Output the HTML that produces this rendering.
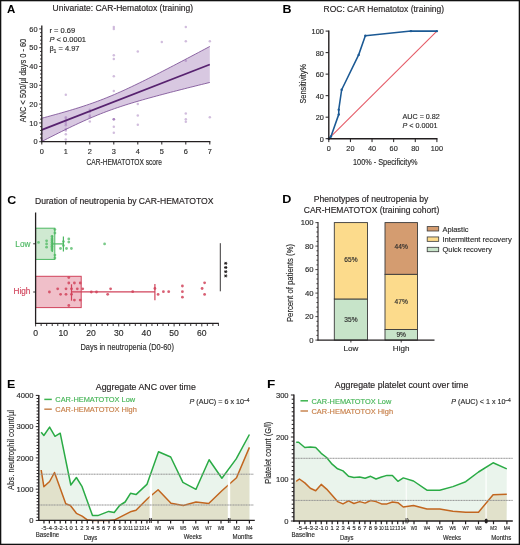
<!DOCTYPE html>
<html><head><meta charset="utf-8"><style>
html,body{margin:0;padding:0;background:#fff;}
body{width:520px;height:545px;overflow:hidden;}
svg{display:block;font-family:"Liberation Sans", sans-serif;filter:blur(0.3px);}
</style></head><body>
<svg width="520" height="545" viewBox="0 0 520 545">
<rect x="0" y="0" width="520" height="545" fill="#fff"/>
<text x="7.00" y="12.71" font-size="11" text-anchor="start" fill="#000" textLength="8.30" lengthAdjust="spacingAndGlyphs" font-weight="bold">A</text>
<text x="52.60" y="11.02" font-size="8.5" text-anchor="start" fill="#231f20" textLength="140.50" lengthAdjust="spacingAndGlyphs" stroke="#231f20" stroke-width="0.15">Univariate: CAR-Hematotox (training)</text>
<polygon points="41.80,118.21 44.60,117.47 47.40,116.72 50.20,115.96 53.00,115.20 55.80,114.43 58.60,113.65 61.40,112.86 64.20,112.06 67.00,111.25 69.80,110.43 72.60,109.59 75.40,108.73 78.20,107.86 81.00,106.97 83.80,106.06 86.60,105.13 89.40,104.17 92.20,103.19 95.00,102.19 97.80,101.16 100.60,100.10 103.40,99.02 106.20,97.90 109.00,96.76 111.80,95.60 114.60,94.41 117.40,93.19 120.20,91.95 123.00,90.69 125.80,89.40 128.60,88.10 131.40,86.78 134.20,85.45 137.00,84.10 139.80,82.73 142.60,81.36 145.40,79.97 148.20,78.57 151.00,77.17 153.80,75.75 156.60,74.33 159.40,72.90 162.20,71.46 165.00,70.02 167.80,68.57 170.60,67.12 173.40,65.67 176.20,64.21 179.00,62.74 181.80,61.27 184.60,59.80 187.40,58.33 190.20,56.85 193.00,55.37 195.80,53.89 198.60,52.41 201.40,50.92 204.20,49.44 207.00,47.95 209.80,46.46 209.80,82.45 207.00,83.14 204.20,83.83 201.40,84.52 198.60,85.21 195.80,85.91 193.00,86.61 190.20,87.31 187.40,88.01 184.60,88.72 181.80,89.43 179.00,90.14 176.20,90.86 173.40,91.58 170.60,92.30 167.80,93.03 165.00,93.76 162.20,94.50 159.40,95.25 156.60,96.00 153.80,96.75 151.00,97.52 148.20,98.29 145.40,99.07 142.60,99.87 139.80,100.67 137.00,101.49 134.20,102.32 131.40,103.16 128.60,104.02 125.80,104.90 123.00,105.80 120.20,106.72 117.40,107.66 114.60,108.62 111.80,109.61 109.00,110.62 106.20,111.66 103.40,112.73 100.60,113.83 97.80,114.95 95.00,116.10 92.20,117.27 89.40,118.48 86.60,119.70 83.80,120.95 81.00,122.22 78.20,123.51 75.40,124.82 72.60,126.14 69.80,127.49 67.00,128.84 64.20,130.21 61.40,131.59 58.60,132.98 55.80,134.38 53.00,135.79 50.20,137.21 47.40,138.63 44.60,140.07 41.80,141.50" fill="#d8c8e1" stroke="none" stroke-width="0"/>
<circle cx="41.80" cy="133.43" r="1.25" fill="#9a6cb3" fill-opacity="0.45"/>
<circle cx="41.80" cy="138.88" r="1.25" fill="#9a6cb3" fill-opacity="0.45"/>
<circle cx="41.80" cy="140.76" r="1.25" fill="#9a6cb3" fill-opacity="0.45"/>
<circle cx="65.80" cy="94.70" r="1.25" fill="#9a6cb3" fill-opacity="0.45"/>
<circle cx="65.80" cy="117.26" r="1.25" fill="#9a6cb3" fill-opacity="0.45"/>
<circle cx="65.80" cy="118.76" r="1.25" fill="#9a6cb3" fill-opacity="0.45"/>
<circle cx="65.80" cy="121.40" r="1.25" fill="#9a6cb3" fill-opacity="0.45"/>
<circle cx="65.80" cy="123.46" r="1.25" fill="#9a6cb3" fill-opacity="0.45"/>
<circle cx="65.80" cy="125.16" r="1.25" fill="#9a6cb3" fill-opacity="0.45"/>
<circle cx="65.80" cy="129.10" r="1.25" fill="#9a6cb3" fill-opacity="0.45"/>
<circle cx="65.80" cy="130.42" r="1.25" fill="#9a6cb3" fill-opacity="0.45"/>
<circle cx="65.80" cy="134.18" r="1.25" fill="#9a6cb3" fill-opacity="0.45"/>
<circle cx="65.80" cy="139.44" r="1.25" fill="#9a6cb3" fill-opacity="0.45"/>
<circle cx="89.80" cy="109.74" r="1.25" fill="#9a6cb3" fill-opacity="0.45"/>
<circle cx="89.80" cy="112.00" r="1.25" fill="#9a6cb3" fill-opacity="0.45"/>
<circle cx="89.80" cy="115.38" r="1.25" fill="#9a6cb3" fill-opacity="0.45"/>
<circle cx="89.80" cy="117.26" r="1.25" fill="#9a6cb3" fill-opacity="0.45"/>
<circle cx="89.80" cy="121.40" r="1.25" fill="#9a6cb3" fill-opacity="0.45"/>
<circle cx="113.80" cy="27.02" r="1.25" fill="#9a6cb3" fill-opacity="0.45"/>
<circle cx="113.80" cy="28.90" r="1.25" fill="#9a6cb3" fill-opacity="0.45"/>
<circle cx="113.80" cy="55.22" r="1.25" fill="#9a6cb3" fill-opacity="0.45"/>
<circle cx="113.80" cy="58.98" r="1.25" fill="#9a6cb3" fill-opacity="0.45"/>
<circle cx="113.80" cy="76.28" r="1.25" fill="#9a6cb3" fill-opacity="0.45"/>
<circle cx="113.80" cy="90.94" r="1.25" fill="#9a6cb3" fill-opacity="0.45"/>
<circle cx="113.80" cy="119.14" r="1.25" fill="#9a6cb3" fill-opacity="0.45"/>
<circle cx="113.80" cy="119.14" r="1.25" fill="#9a6cb3" fill-opacity="0.45"/>
<circle cx="113.80" cy="119.14" r="1.25" fill="#9a6cb3" fill-opacity="0.45"/>
<circle cx="113.80" cy="126.66" r="1.25" fill="#9a6cb3" fill-opacity="0.45"/>
<circle cx="113.80" cy="132.68" r="1.25" fill="#9a6cb3" fill-opacity="0.45"/>
<circle cx="137.80" cy="51.46" r="1.25" fill="#9a6cb3" fill-opacity="0.45"/>
<circle cx="137.80" cy="104.10" r="1.25" fill="#9a6cb3" fill-opacity="0.45"/>
<circle cx="137.80" cy="115.38" r="1.25" fill="#9a6cb3" fill-opacity="0.45"/>
<circle cx="137.80" cy="124.78" r="1.25" fill="#9a6cb3" fill-opacity="0.45"/>
<circle cx="161.80" cy="42.06" r="1.25" fill="#9a6cb3" fill-opacity="0.45"/>
<circle cx="185.80" cy="27.02" r="1.25" fill="#9a6cb3" fill-opacity="0.45"/>
<circle cx="185.80" cy="41.31" r="1.25" fill="#9a6cb3" fill-opacity="0.45"/>
<circle cx="185.80" cy="60.86" r="1.25" fill="#9a6cb3" fill-opacity="0.45"/>
<circle cx="185.80" cy="113.50" r="1.25" fill="#9a6cb3" fill-opacity="0.45"/>
<circle cx="185.80" cy="119.33" r="1.25" fill="#9a6cb3" fill-opacity="0.45"/>
<circle cx="185.80" cy="121.77" r="1.25" fill="#9a6cb3" fill-opacity="0.45"/>
<circle cx="209.80" cy="41.31" r="1.25" fill="#9a6cb3" fill-opacity="0.45"/>
<circle cx="209.80" cy="117.26" r="1.25" fill="#9a6cb3" fill-opacity="0.45"/>
<polyline points="41.80,118.21 44.60,117.47 47.40,116.72 50.20,115.96 53.00,115.20 55.80,114.43 58.60,113.65 61.40,112.86 64.20,112.06 67.00,111.25 69.80,110.43 72.60,109.59 75.40,108.73 78.20,107.86 81.00,106.97 83.80,106.06 86.60,105.13 89.40,104.17 92.20,103.19 95.00,102.19 97.80,101.16 100.60,100.10 103.40,99.02 106.20,97.90 109.00,96.76 111.80,95.60 114.60,94.41 117.40,93.19 120.20,91.95 123.00,90.69 125.80,89.40 128.60,88.10 131.40,86.78 134.20,85.45 137.00,84.10 139.80,82.73 142.60,81.36 145.40,79.97 148.20,78.57 151.00,77.17 153.80,75.75 156.60,74.33 159.40,72.90 162.20,71.46 165.00,70.02 167.80,68.57 170.60,67.12 173.40,65.67 176.20,64.21 179.00,62.74 181.80,61.27 184.60,59.80 187.40,58.33 190.20,56.85 193.00,55.37 195.80,53.89 198.60,52.41 201.40,50.92 204.20,49.44 207.00,47.95 209.80,46.46" fill="none" stroke="#74458f" stroke-width="0.8" stroke-linejoin="round"/>
<polyline points="41.80,141.50 44.60,140.07 47.40,138.63 50.20,137.21 53.00,135.79 55.80,134.38 58.60,132.98 61.40,131.59 64.20,130.21 67.00,128.84 69.80,127.49 72.60,126.14 75.40,124.82 78.20,123.51 81.00,122.22 83.80,120.95 86.60,119.70 89.40,118.48 92.20,117.27 95.00,116.10 97.80,114.95 100.60,113.83 103.40,112.73 106.20,111.66 109.00,110.62 111.80,109.61 114.60,108.62 117.40,107.66 120.20,106.72 123.00,105.80 125.80,104.90 128.60,104.02 131.40,103.16 134.20,102.32 137.00,101.49 139.80,100.67 142.60,99.87 145.40,99.07 148.20,98.29 151.00,97.52 153.80,96.75 156.60,96.00 159.40,95.25 162.20,94.50 165.00,93.76 167.80,93.03 170.60,92.30 173.40,91.58 176.20,90.86 179.00,90.14 181.80,89.43 184.60,88.72 187.40,88.01 190.20,87.31 193.00,86.61 195.80,85.91 198.60,85.21 201.40,84.52 204.20,83.83 207.00,83.14 209.80,82.45" fill="none" stroke="#74458f" stroke-width="0.8" stroke-linejoin="round"/>
<line x1="41.80" y1="129.86" x2="209.80" y2="64.45" stroke="#57226f" stroke-width="1.7"/>
<line x1="41.80" y1="142.30" x2="41.80" y2="25.50" stroke="#231f20" stroke-width="1.3"/>
<line x1="41.20" y1="141.70" x2="210.40" y2="141.70" stroke="#231f20" stroke-width="1.3"/>
<line x1="39.20" y1="141.70" x2="41.80" y2="141.70" stroke="#231f20" stroke-width="0.9"/>
<text x="37.60" y="144.33" font-size="7.4" text-anchor="end" fill="#2b2b2b" stroke="#2b2b2b" stroke-width="0.15">0</text>
<line x1="40.00" y1="137.94" x2="41.80" y2="137.94" stroke="#231f20" stroke-width="0.9"/>
<line x1="40.00" y1="134.18" x2="41.80" y2="134.18" stroke="#231f20" stroke-width="0.9"/>
<line x1="40.00" y1="130.42" x2="41.80" y2="130.42" stroke="#231f20" stroke-width="0.9"/>
<line x1="40.00" y1="126.66" x2="41.80" y2="126.66" stroke="#231f20" stroke-width="0.9"/>
<line x1="39.20" y1="122.90" x2="41.80" y2="122.90" stroke="#231f20" stroke-width="0.9"/>
<text x="37.60" y="125.53" font-size="7.4" text-anchor="end" fill="#2b2b2b" stroke="#2b2b2b" stroke-width="0.15">10</text>
<line x1="40.00" y1="119.14" x2="41.80" y2="119.14" stroke="#231f20" stroke-width="0.9"/>
<line x1="40.00" y1="115.38" x2="41.80" y2="115.38" stroke="#231f20" stroke-width="0.9"/>
<line x1="40.00" y1="111.62" x2="41.80" y2="111.62" stroke="#231f20" stroke-width="0.9"/>
<line x1="40.00" y1="107.86" x2="41.80" y2="107.86" stroke="#231f20" stroke-width="0.9"/>
<line x1="39.20" y1="104.10" x2="41.80" y2="104.10" stroke="#231f20" stroke-width="0.9"/>
<text x="37.60" y="106.73" font-size="7.4" text-anchor="end" fill="#2b2b2b" stroke="#2b2b2b" stroke-width="0.15">20</text>
<line x1="40.00" y1="100.34" x2="41.80" y2="100.34" stroke="#231f20" stroke-width="0.9"/>
<line x1="40.00" y1="96.58" x2="41.80" y2="96.58" stroke="#231f20" stroke-width="0.9"/>
<line x1="40.00" y1="92.82" x2="41.80" y2="92.82" stroke="#231f20" stroke-width="0.9"/>
<line x1="40.00" y1="89.06" x2="41.80" y2="89.06" stroke="#231f20" stroke-width="0.9"/>
<line x1="39.20" y1="85.30" x2="41.80" y2="85.30" stroke="#231f20" stroke-width="0.9"/>
<text x="37.60" y="87.93" font-size="7.4" text-anchor="end" fill="#2b2b2b" stroke="#2b2b2b" stroke-width="0.15">30</text>
<line x1="40.00" y1="81.54" x2="41.80" y2="81.54" stroke="#231f20" stroke-width="0.9"/>
<line x1="40.00" y1="77.78" x2="41.80" y2="77.78" stroke="#231f20" stroke-width="0.9"/>
<line x1="40.00" y1="74.02" x2="41.80" y2="74.02" stroke="#231f20" stroke-width="0.9"/>
<line x1="40.00" y1="70.26" x2="41.80" y2="70.26" stroke="#231f20" stroke-width="0.9"/>
<line x1="39.20" y1="66.50" x2="41.80" y2="66.50" stroke="#231f20" stroke-width="0.9"/>
<text x="37.60" y="69.13" font-size="7.4" text-anchor="end" fill="#2b2b2b" stroke="#2b2b2b" stroke-width="0.15">40</text>
<line x1="40.00" y1="62.74" x2="41.80" y2="62.74" stroke="#231f20" stroke-width="0.9"/>
<line x1="40.00" y1="58.98" x2="41.80" y2="58.98" stroke="#231f20" stroke-width="0.9"/>
<line x1="40.00" y1="55.22" x2="41.80" y2="55.22" stroke="#231f20" stroke-width="0.9"/>
<line x1="40.00" y1="51.46" x2="41.80" y2="51.46" stroke="#231f20" stroke-width="0.9"/>
<line x1="39.20" y1="47.70" x2="41.80" y2="47.70" stroke="#231f20" stroke-width="0.9"/>
<text x="37.60" y="50.33" font-size="7.4" text-anchor="end" fill="#2b2b2b" stroke="#2b2b2b" stroke-width="0.15">50</text>
<line x1="40.00" y1="43.94" x2="41.80" y2="43.94" stroke="#231f20" stroke-width="0.9"/>
<line x1="40.00" y1="40.18" x2="41.80" y2="40.18" stroke="#231f20" stroke-width="0.9"/>
<line x1="40.00" y1="36.42" x2="41.80" y2="36.42" stroke="#231f20" stroke-width="0.9"/>
<line x1="40.00" y1="32.66" x2="41.80" y2="32.66" stroke="#231f20" stroke-width="0.9"/>
<line x1="39.20" y1="28.90" x2="41.80" y2="28.90" stroke="#231f20" stroke-width="0.9"/>
<text x="37.60" y="31.53" font-size="7.4" text-anchor="end" fill="#2b2b2b" stroke="#2b2b2b" stroke-width="0.15">60</text>
<line x1="41.80" y1="141.70" x2="41.80" y2="144.50" stroke="#231f20" stroke-width="1.0"/>
<text x="41.80" y="153.93" font-size="7.4" text-anchor="middle" fill="#2b2b2b" stroke="#2b2b2b" stroke-width="0.15">0</text>
<line x1="65.80" y1="141.70" x2="65.80" y2="144.50" stroke="#231f20" stroke-width="1.0"/>
<text x="65.80" y="153.93" font-size="7.4" text-anchor="middle" fill="#2b2b2b" stroke="#2b2b2b" stroke-width="0.15">1</text>
<line x1="89.80" y1="141.70" x2="89.80" y2="144.50" stroke="#231f20" stroke-width="1.0"/>
<text x="89.80" y="153.93" font-size="7.4" text-anchor="middle" fill="#2b2b2b" stroke="#2b2b2b" stroke-width="0.15">2</text>
<line x1="113.80" y1="141.70" x2="113.80" y2="144.50" stroke="#231f20" stroke-width="1.0"/>
<text x="113.80" y="153.93" font-size="7.4" text-anchor="middle" fill="#2b2b2b" stroke="#2b2b2b" stroke-width="0.15">3</text>
<line x1="137.80" y1="141.70" x2="137.80" y2="144.50" stroke="#231f20" stroke-width="1.0"/>
<text x="137.80" y="153.93" font-size="7.4" text-anchor="middle" fill="#2b2b2b" stroke="#2b2b2b" stroke-width="0.15">4</text>
<line x1="161.80" y1="141.70" x2="161.80" y2="144.50" stroke="#231f20" stroke-width="1.0"/>
<text x="161.80" y="153.93" font-size="7.4" text-anchor="middle" fill="#2b2b2b" stroke="#2b2b2b" stroke-width="0.15">5</text>
<line x1="185.80" y1="141.70" x2="185.80" y2="144.50" stroke="#231f20" stroke-width="1.0"/>
<text x="185.80" y="153.93" font-size="7.4" text-anchor="middle" fill="#2b2b2b" stroke="#2b2b2b" stroke-width="0.15">6</text>
<line x1="209.80" y1="141.70" x2="209.80" y2="144.50" stroke="#231f20" stroke-width="1.0"/>
<text x="209.80" y="153.93" font-size="7.4" text-anchor="middle" fill="#2b2b2b" stroke="#2b2b2b" stroke-width="0.15">7</text>
<text x="124.20" y="164.65" font-size="8.6" text-anchor="middle" fill="#2b2b2b" textLength="75.50" lengthAdjust="spacingAndGlyphs" stroke="#2b2b2b" stroke-width="0.15">CAR-HEMATOTOX score</text>
<text transform="translate(22.60,80.50) rotate(-90)" x="0" y="3.05" font-size="8.6" text-anchor="middle" fill="#2b2b2b" stroke="#2b2b2b" stroke-width="0.15" textLength="83.50" lengthAdjust="spacingAndGlyphs">ANC &lt; 500/µl days 0 - 60</text>
<text x="49.50" y="33.26" font-size="7.5" text-anchor="start" fill="#2b2b2b" stroke="#2b2b2b" stroke-width="0.15">r = 0.69</text>
<text x="49.50" y="42.06" font-size="7.5" text-anchor="start" fill="#2b2b2b" stroke="#2b2b2b" stroke-width="0.15"><tspan font-style="italic">P</tspan> &lt; 0.0001</text>
<text x="49.50" y="50.96" font-size="7.5" text-anchor="start" fill="#2b2b2b" stroke="#2b2b2b" stroke-width="0.15">β<tspan font-size="4.5" dy="1.8">1</tspan><tspan dy="-1.8"> = 4.97</tspan></text>
<text x="282.40" y="12.71" font-size="11" text-anchor="start" fill="#000" textLength="9.00" lengthAdjust="spacingAndGlyphs" font-weight="bold">B</text>
<text x="323.60" y="12.22" font-size="8.5" text-anchor="start" fill="#231f20" textLength="120.50" lengthAdjust="spacingAndGlyphs" stroke="#231f20" stroke-width="0.15">ROC: CAR Hematotox (training)</text>
<line x1="328.80" y1="138.70" x2="436.90" y2="31.10" stroke="#e55c68" stroke-width="1.1"/>
<polyline points="328.80,138.70 330.96,136.55 338.75,114.38 338.75,109.65 341.66,89.74 358.64,54.88 365.34,35.73 410.96,31.10 436.90,31.10" fill="none" stroke="#1b5994" stroke-width="1.55" stroke-linejoin="round"/>
<circle cx="328.80" cy="138.70" r="1.2" fill="#1b5994"/>
<circle cx="330.96" cy="136.55" r="1.2" fill="#1b5994"/>
<circle cx="338.75" cy="114.38" r="1.2" fill="#1b5994"/>
<circle cx="338.75" cy="109.65" r="1.2" fill="#1b5994"/>
<circle cx="341.66" cy="89.74" r="1.2" fill="#1b5994"/>
<circle cx="358.64" cy="54.88" r="1.2" fill="#1b5994"/>
<circle cx="365.34" cy="35.73" r="1.2" fill="#1b5994"/>
<circle cx="410.96" cy="31.10" r="1.2" fill="#1b5994"/>
<circle cx="436.90" cy="31.10" r="1.2" fill="#1b5994"/>
<line x1="328.80" y1="139.40" x2="328.80" y2="30.50" stroke="#231f20" stroke-width="1.4"/>
<line x1="328.10" y1="138.70" x2="437.50" y2="138.70" stroke="#231f20" stroke-width="1.4"/>
<line x1="325.60" y1="138.70" x2="328.80" y2="138.70" stroke="#231f20" stroke-width="1.0"/>
<text x="323.80" y="141.89" font-size="7.3" text-anchor="end" fill="#2b2b2b" stroke="#2b2b2b" stroke-width="0.15">0</text>
<line x1="325.60" y1="117.18" x2="328.80" y2="117.18" stroke="#231f20" stroke-width="1.0"/>
<text x="323.80" y="120.37" font-size="7.3" text-anchor="end" fill="#2b2b2b" stroke="#2b2b2b" stroke-width="0.15">20</text>
<line x1="325.60" y1="95.66" x2="328.80" y2="95.66" stroke="#231f20" stroke-width="1.0"/>
<text x="323.80" y="98.85" font-size="7.3" text-anchor="end" fill="#2b2b2b" stroke="#2b2b2b" stroke-width="0.15">40</text>
<line x1="325.60" y1="74.14" x2="328.80" y2="74.14" stroke="#231f20" stroke-width="1.0"/>
<text x="323.80" y="77.33" font-size="7.3" text-anchor="end" fill="#2b2b2b" stroke="#2b2b2b" stroke-width="0.15">60</text>
<line x1="325.60" y1="52.62" x2="328.80" y2="52.62" stroke="#231f20" stroke-width="1.0"/>
<text x="323.80" y="55.81" font-size="7.3" text-anchor="end" fill="#2b2b2b" stroke="#2b2b2b" stroke-width="0.15">80</text>
<line x1="325.60" y1="31.10" x2="328.80" y2="31.10" stroke="#231f20" stroke-width="1.0"/>
<text x="323.80" y="34.29" font-size="7.3" text-anchor="end" fill="#2b2b2b" stroke="#2b2b2b" stroke-width="0.15">100</text>
<line x1="328.80" y1="138.70" x2="328.80" y2="142.10" stroke="#231f20" stroke-width="1.0"/>
<text x="328.80" y="150.59" font-size="7.3" text-anchor="middle" fill="#2b2b2b" stroke="#2b2b2b" stroke-width="0.15">0</text>
<line x1="350.42" y1="138.70" x2="350.42" y2="142.10" stroke="#231f20" stroke-width="1.0"/>
<text x="350.42" y="150.59" font-size="7.3" text-anchor="middle" fill="#2b2b2b" stroke="#2b2b2b" stroke-width="0.15">20</text>
<line x1="372.04" y1="138.70" x2="372.04" y2="142.10" stroke="#231f20" stroke-width="1.0"/>
<text x="372.04" y="150.59" font-size="7.3" text-anchor="middle" fill="#2b2b2b" stroke="#2b2b2b" stroke-width="0.15">40</text>
<line x1="393.66" y1="138.70" x2="393.66" y2="142.10" stroke="#231f20" stroke-width="1.0"/>
<text x="393.66" y="150.59" font-size="7.3" text-anchor="middle" fill="#2b2b2b" stroke="#2b2b2b" stroke-width="0.15">60</text>
<line x1="415.28" y1="138.70" x2="415.28" y2="142.10" stroke="#231f20" stroke-width="1.0"/>
<text x="415.28" y="150.59" font-size="7.3" text-anchor="middle" fill="#2b2b2b" stroke="#2b2b2b" stroke-width="0.15">80</text>
<line x1="436.90" y1="138.70" x2="436.90" y2="142.10" stroke="#231f20" stroke-width="1.0"/>
<text x="436.90" y="150.59" font-size="7.3" text-anchor="middle" fill="#2b2b2b" stroke="#2b2b2b" stroke-width="0.15">100</text>
<text x="385.30" y="165.41" font-size="8.2" text-anchor="middle" fill="#2b2b2b" textLength="64.50" lengthAdjust="spacingAndGlyphs" stroke="#2b2b2b" stroke-width="0.15">100% - Specificity%</text>
<text transform="translate(302.80,83.80) rotate(-90)" x="0" y="2.98" font-size="8.4" text-anchor="middle" fill="#2b2b2b" stroke="#2b2b2b" stroke-width="0.15" textLength="39.50" lengthAdjust="spacingAndGlyphs">Sensitivity%</text>
<text x="402.50" y="119.36" font-size="7.2" text-anchor="start" fill="#2b2b2b" stroke="#2b2b2b" stroke-width="0.15">AUC = 0.82</text>
<text x="402.50" y="128.06" font-size="7.2" text-anchor="start" fill="#2b2b2b" stroke="#2b2b2b" stroke-width="0.15"><tspan font-style="italic">P</tspan> &lt; 0.0001</text>
<text x="7.30" y="203.71" font-size="11" text-anchor="start" fill="#000" textLength="9.00" lengthAdjust="spacingAndGlyphs" font-weight="bold">C</text>
<text x="35.00" y="203.52" font-size="8.5" text-anchor="start" fill="#231f20" textLength="178.50" lengthAdjust="spacingAndGlyphs" stroke="#231f20" stroke-width="0.15">Duration of neutropenia by CAR-HEMATOTOX</text>
<rect x="35.60" y="228.2" width="19.20" height="31.2" fill="#cfe9d1" stroke="#4db862" stroke-width="1"/>
<rect x="35.60" y="276.3" width="45.60" height="31.3" fill="#f0bfc9" stroke="#d1435b" stroke-width="1"/>
<circle cx="52.00" cy="236.40" r="1.4" fill="#4db862" fill-opacity="0.75"/>
<circle cx="52.00" cy="239.00" r="1.4" fill="#4db862" fill-opacity="0.75"/>
<circle cx="52.00" cy="240.80" r="1.4" fill="#4db862" fill-opacity="0.75"/>
<circle cx="52.00" cy="242.60" r="1.4" fill="#4db862" fill-opacity="0.75"/>
<circle cx="52.00" cy="244.40" r="1.4" fill="#4db862" fill-opacity="0.75"/>
<circle cx="52.00" cy="246.20" r="1.4" fill="#4db862" fill-opacity="0.75"/>
<circle cx="52.00" cy="248.00" r="1.4" fill="#4db862" fill-opacity="0.75"/>
<circle cx="52.00" cy="250.00" r="1.4" fill="#4db862" fill-opacity="0.75"/>
<circle cx="46.60" cy="240.80" r="1.4" fill="#4db862" fill-opacity="0.75"/>
<circle cx="46.60" cy="243.90" r="1.4" fill="#4db862" fill-opacity="0.75"/>
<circle cx="46.60" cy="247.20" r="1.4" fill="#4db862" fill-opacity="0.75"/>
<circle cx="38.50" cy="242.40" r="1.4" fill="#4db862" fill-opacity="0.75"/>
<circle cx="54.90" cy="229.60" r="1.4" fill="#4db862" fill-opacity="0.75"/>
<circle cx="54.90" cy="233.00" r="1.4" fill="#4db862" fill-opacity="0.75"/>
<circle cx="54.90" cy="255.10" r="1.4" fill="#4db862" fill-opacity="0.75"/>
<circle cx="54.90" cy="258.00" r="1.4" fill="#4db862" fill-opacity="0.75"/>
<circle cx="60.50" cy="248.50" r="1.4" fill="#4db862" fill-opacity="0.75"/>
<circle cx="63.40" cy="241.60" r="1.4" fill="#4db862" fill-opacity="0.75"/>
<circle cx="63.40" cy="245.60" r="1.4" fill="#4db862" fill-opacity="0.75"/>
<circle cx="66.50" cy="248.50" r="1.4" fill="#4db862" fill-opacity="0.75"/>
<circle cx="68.80" cy="239.00" r="1.4" fill="#4db862" fill-opacity="0.75"/>
<circle cx="68.80" cy="242.10" r="1.4" fill="#4db862" fill-opacity="0.75"/>
<circle cx="71.40" cy="248.50" r="1.4" fill="#4db862" fill-opacity="0.75"/>
<circle cx="104.60" cy="243.90" r="1.4" fill="#4db862" fill-opacity="0.75"/>
<line x1="52.30" y1="235.60" x2="52.30" y2="252.00" stroke="#4db862" stroke-width="1.2"/>
<line x1="52.30" y1="243.90" x2="63.40" y2="243.90" stroke="#4db862" stroke-width="1.2"/>
<line x1="63.40" y1="236.40" x2="63.40" y2="251.50" stroke="#4db862" stroke-width="1.2"/>
<circle cx="49.40" cy="292.00" r="1.4" fill="#d1435b" fill-opacity="0.85"/>
<circle cx="57.70" cy="288.80" r="1.4" fill="#d1435b" fill-opacity="0.85"/>
<circle cx="60.60" cy="294.30" r="1.4" fill="#d1435b" fill-opacity="0.85"/>
<circle cx="66.00" cy="288.80" r="1.4" fill="#d1435b" fill-opacity="0.85"/>
<circle cx="66.00" cy="294.30" r="1.4" fill="#d1435b" fill-opacity="0.85"/>
<circle cx="68.80" cy="277.60" r="1.4" fill="#d1435b" fill-opacity="0.85"/>
<circle cx="68.80" cy="283.00" r="1.4" fill="#d1435b" fill-opacity="0.85"/>
<circle cx="68.80" cy="305.50" r="1.4" fill="#d1435b" fill-opacity="0.85"/>
<circle cx="71.50" cy="288.80" r="1.4" fill="#d1435b" fill-opacity="0.85"/>
<circle cx="71.50" cy="294.30" r="1.4" fill="#d1435b" fill-opacity="0.85"/>
<circle cx="74.40" cy="283.00" r="1.4" fill="#d1435b" fill-opacity="0.85"/>
<circle cx="74.40" cy="300.10" r="1.4" fill="#d1435b" fill-opacity="0.85"/>
<circle cx="77.30" cy="288.80" r="1.4" fill="#d1435b" fill-opacity="0.85"/>
<circle cx="80.20" cy="283.00" r="1.4" fill="#d1435b" fill-opacity="0.85"/>
<circle cx="80.20" cy="300.10" r="1.4" fill="#d1435b" fill-opacity="0.85"/>
<circle cx="82.70" cy="288.80" r="1.4" fill="#d1435b" fill-opacity="0.85"/>
<circle cx="91.30" cy="292.00" r="1.4" fill="#d1435b" fill-opacity="0.85"/>
<circle cx="96.50" cy="292.00" r="1.4" fill="#d1435b" fill-opacity="0.85"/>
<circle cx="107.70" cy="294.30" r="1.4" fill="#d1435b" fill-opacity="0.85"/>
<circle cx="110.60" cy="288.80" r="1.4" fill="#d1435b" fill-opacity="0.85"/>
<circle cx="132.70" cy="291.70" r="1.4" fill="#d1435b" fill-opacity="0.85"/>
<circle cx="154.90" cy="288.50" r="1.4" fill="#d1435b" fill-opacity="0.85"/>
<circle cx="158.10" cy="294.40" r="1.4" fill="#d1435b" fill-opacity="0.85"/>
<circle cx="163.40" cy="291.70" r="1.4" fill="#d1435b" fill-opacity="0.85"/>
<circle cx="168.70" cy="291.70" r="1.4" fill="#d1435b" fill-opacity="0.85"/>
<circle cx="182.40" cy="286.00" r="1.4" fill="#d1435b" fill-opacity="0.85"/>
<circle cx="182.40" cy="291.70" r="1.4" fill="#d1435b" fill-opacity="0.85"/>
<circle cx="182.40" cy="297.20" r="1.4" fill="#d1435b" fill-opacity="0.85"/>
<circle cx="202.10" cy="288.50" r="1.4" fill="#d1435b" fill-opacity="0.85"/>
<circle cx="204.60" cy="282.80" r="1.4" fill="#d1435b" fill-opacity="0.85"/>
<circle cx="204.60" cy="294.40" r="1.4" fill="#d1435b" fill-opacity="0.85"/>
<line x1="71.50" y1="284.30" x2="71.50" y2="300.70" stroke="#d1435b" stroke-width="1.2"/>
<line x1="71.50" y1="291.90" x2="154.90" y2="291.90" stroke="#d1435b" stroke-width="1.2"/>
<line x1="154.90" y1="283.90" x2="154.90" y2="300.20" stroke="#d1435b" stroke-width="1.2"/>
<line x1="35.60" y1="324.00" x2="35.60" y2="212.50" stroke="#231f20" stroke-width="1.3"/>
<line x1="35.00" y1="323.40" x2="218.80" y2="323.40" stroke="#231f20" stroke-width="1.3"/>
<line x1="35.60" y1="323.40" x2="35.60" y2="326.40" stroke="#231f20" stroke-width="0.9"/>
<text x="35.60" y="336.25" font-size="8.6" text-anchor="middle" fill="#2b2b2b" stroke="#2b2b2b" stroke-width="0.15">0</text>
<line x1="41.14" y1="323.40" x2="41.14" y2="326.00" stroke="#231f20" stroke-width="0.9"/>
<line x1="46.68" y1="323.40" x2="46.68" y2="326.00" stroke="#231f20" stroke-width="0.9"/>
<line x1="52.22" y1="323.40" x2="52.22" y2="326.00" stroke="#231f20" stroke-width="0.9"/>
<line x1="57.76" y1="323.40" x2="57.76" y2="326.00" stroke="#231f20" stroke-width="0.9"/>
<line x1="63.30" y1="323.40" x2="63.30" y2="326.40" stroke="#231f20" stroke-width="0.9"/>
<text x="63.30" y="336.25" font-size="8.6" text-anchor="middle" fill="#2b2b2b" stroke="#2b2b2b" stroke-width="0.15">10</text>
<line x1="68.84" y1="323.40" x2="68.84" y2="326.00" stroke="#231f20" stroke-width="0.9"/>
<line x1="74.38" y1="323.40" x2="74.38" y2="326.00" stroke="#231f20" stroke-width="0.9"/>
<line x1="79.92" y1="323.40" x2="79.92" y2="326.00" stroke="#231f20" stroke-width="0.9"/>
<line x1="85.46" y1="323.40" x2="85.46" y2="326.00" stroke="#231f20" stroke-width="0.9"/>
<line x1="91.00" y1="323.40" x2="91.00" y2="326.40" stroke="#231f20" stroke-width="0.9"/>
<text x="91.00" y="336.25" font-size="8.6" text-anchor="middle" fill="#2b2b2b" stroke="#2b2b2b" stroke-width="0.15">20</text>
<line x1="96.54" y1="323.40" x2="96.54" y2="326.00" stroke="#231f20" stroke-width="0.9"/>
<line x1="102.08" y1="323.40" x2="102.08" y2="326.00" stroke="#231f20" stroke-width="0.9"/>
<line x1="107.62" y1="323.40" x2="107.62" y2="326.00" stroke="#231f20" stroke-width="0.9"/>
<line x1="113.16" y1="323.40" x2="113.16" y2="326.00" stroke="#231f20" stroke-width="0.9"/>
<line x1="118.70" y1="323.40" x2="118.70" y2="326.40" stroke="#231f20" stroke-width="0.9"/>
<text x="118.70" y="336.25" font-size="8.6" text-anchor="middle" fill="#2b2b2b" stroke="#2b2b2b" stroke-width="0.15">30</text>
<line x1="124.24" y1="323.40" x2="124.24" y2="326.00" stroke="#231f20" stroke-width="0.9"/>
<line x1="129.78" y1="323.40" x2="129.78" y2="326.00" stroke="#231f20" stroke-width="0.9"/>
<line x1="135.32" y1="323.40" x2="135.32" y2="326.00" stroke="#231f20" stroke-width="0.9"/>
<line x1="140.86" y1="323.40" x2="140.86" y2="326.00" stroke="#231f20" stroke-width="0.9"/>
<line x1="146.40" y1="323.40" x2="146.40" y2="326.40" stroke="#231f20" stroke-width="0.9"/>
<text x="146.40" y="336.25" font-size="8.6" text-anchor="middle" fill="#2b2b2b" stroke="#2b2b2b" stroke-width="0.15">40</text>
<line x1="151.94" y1="323.40" x2="151.94" y2="326.00" stroke="#231f20" stroke-width="0.9"/>
<line x1="157.48" y1="323.40" x2="157.48" y2="326.00" stroke="#231f20" stroke-width="0.9"/>
<line x1="163.02" y1="323.40" x2="163.02" y2="326.00" stroke="#231f20" stroke-width="0.9"/>
<line x1="168.56" y1="323.40" x2="168.56" y2="326.00" stroke="#231f20" stroke-width="0.9"/>
<line x1="174.10" y1="323.40" x2="174.10" y2="326.40" stroke="#231f20" stroke-width="0.9"/>
<text x="174.10" y="336.25" font-size="8.6" text-anchor="middle" fill="#2b2b2b" stroke="#2b2b2b" stroke-width="0.15">50</text>
<line x1="179.64" y1="323.40" x2="179.64" y2="326.00" stroke="#231f20" stroke-width="0.9"/>
<line x1="185.18" y1="323.40" x2="185.18" y2="326.00" stroke="#231f20" stroke-width="0.9"/>
<line x1="190.72" y1="323.40" x2="190.72" y2="326.00" stroke="#231f20" stroke-width="0.9"/>
<line x1="196.26" y1="323.40" x2="196.26" y2="326.00" stroke="#231f20" stroke-width="0.9"/>
<line x1="201.80" y1="323.40" x2="201.80" y2="326.40" stroke="#231f20" stroke-width="0.9"/>
<text x="201.80" y="336.25" font-size="8.6" text-anchor="middle" fill="#2b2b2b" stroke="#2b2b2b" stroke-width="0.15">60</text>
<line x1="207.34" y1="323.40" x2="207.34" y2="326.00" stroke="#231f20" stroke-width="0.9"/>
<line x1="212.88" y1="323.40" x2="212.88" y2="326.00" stroke="#231f20" stroke-width="0.9"/>
<line x1="218.42" y1="323.40" x2="218.42" y2="326.00" stroke="#231f20" stroke-width="0.9"/>
<line x1="33.20" y1="243.80" x2="35.60" y2="243.80" stroke="#231f20" stroke-width="0.9"/>
<line x1="33.20" y1="292.00" x2="35.60" y2="292.00" stroke="#231f20" stroke-width="0.9"/>
<text x="30.40" y="246.81" font-size="8.2" text-anchor="end" fill="#4db862" stroke="#4db862" stroke-width="0.15">Low</text>
<text x="30.40" y="294.41" font-size="8.2" text-anchor="end" fill="#d1435b" stroke="#d1435b" stroke-width="0.15">High</text>
<text x="127.20" y="350.02" font-size="8.8" text-anchor="middle" fill="#2b2b2b" textLength="93.50" lengthAdjust="spacingAndGlyphs" stroke="#2b2b2b" stroke-width="0.15">Days in neutropenia (D0-60)</text>
<line x1="220.30" y1="243.20" x2="220.30" y2="291.30" stroke="#231f20" stroke-width="0.9"/>
<path d="M224.10,263.30L227.30,263.30M224.90,261.91L226.50,264.69M226.50,261.91L224.90,264.69" stroke="#231f20" stroke-width="1.0" fill="none"/>
<path d="M224.10,267.50L227.30,267.50M224.90,266.11L226.50,268.89M226.50,266.11L224.90,268.89" stroke="#231f20" stroke-width="1.0" fill="none"/>
<path d="M224.10,271.70L227.30,271.70M224.90,270.31L226.50,273.09M226.50,270.31L224.90,273.09" stroke="#231f20" stroke-width="1.0" fill="none"/>
<path d="M224.10,275.90L227.30,275.90M224.90,274.51L226.50,277.29M226.50,274.51L224.90,277.29" stroke="#231f20" stroke-width="1.0" fill="none"/>
<text x="282.30" y="202.91" font-size="11" text-anchor="start" fill="#000" textLength="9.10" lengthAdjust="spacingAndGlyphs" font-weight="bold">D</text>
<text x="371.00" y="202.12" font-size="8.5" text-anchor="middle" fill="#231f20" textLength="114.50" lengthAdjust="spacingAndGlyphs" stroke="#231f20" stroke-width="0.15">Phenotypes of neutropenia by</text>
<text x="371.50" y="212.72" font-size="8.5" text-anchor="middle" fill="#231f20" textLength="135.50" lengthAdjust="spacingAndGlyphs" stroke="#231f20" stroke-width="0.15">CAR-HEMATOTOX (training cohort)</text>
<rect x="334.30" y="298.98" width="33.20" height="41.12" fill="#c7e4c9" stroke="#3a3a3a" stroke-width="0.9"/>
<rect x="334.30" y="222.60" width="33.20" height="76.38" fill="#fcdb8c" stroke="#3a3a3a" stroke-width="0.9"/>
<rect x="385.00" y="329.53" width="32.50" height="10.58" fill="#c7e4c9" stroke="#3a3a3a" stroke-width="0.9"/>
<rect x="385.00" y="274.30" width="32.50" height="55.23" fill="#fcdb8c" stroke="#3a3a3a" stroke-width="0.9"/>
<rect x="385.00" y="222.60" width="32.50" height="51.70" fill="#d49c70" stroke="#3a3a3a" stroke-width="0.9"/>
<text x="350.90" y="261.84" font-size="6.6" text-anchor="middle" fill="#2b2b2b" stroke="#2b2b2b" stroke-width="0.15">65%</text>
<text x="350.90" y="321.54" font-size="6.6" text-anchor="middle" fill="#2b2b2b" stroke="#2b2b2b" stroke-width="0.15">35%</text>
<text x="401.20" y="249.34" font-size="6.6" text-anchor="middle" fill="#2b2b2b" stroke="#2b2b2b" stroke-width="0.15">44%</text>
<text x="401.20" y="303.64" font-size="6.6" text-anchor="middle" fill="#2b2b2b" stroke="#2b2b2b" stroke-width="0.15">47%</text>
<text x="401.20" y="337.34" font-size="6.6" text-anchor="middle" fill="#2b2b2b" stroke="#2b2b2b" stroke-width="0.15">9%</text>
<line x1="318.00" y1="340.60" x2="318.00" y2="222.10" stroke="#231f20" stroke-width="1.1"/>
<line x1="317.50" y1="340.10" x2="434.50" y2="340.10" stroke="#231f20" stroke-width="1.1"/>
<line x1="315.40" y1="340.10" x2="318.00" y2="340.10" stroke="#231f20" stroke-width="0.8"/>
<text x="313.60" y="342.83" font-size="7.7" text-anchor="end" fill="#2b2b2b" stroke="#2b2b2b" stroke-width="0.15">0</text>
<line x1="316.40" y1="335.40" x2="318.00" y2="335.40" stroke="#231f20" stroke-width="0.8"/>
<line x1="316.40" y1="330.70" x2="318.00" y2="330.70" stroke="#231f20" stroke-width="0.8"/>
<line x1="316.40" y1="326.00" x2="318.00" y2="326.00" stroke="#231f20" stroke-width="0.8"/>
<line x1="316.40" y1="321.30" x2="318.00" y2="321.30" stroke="#231f20" stroke-width="0.8"/>
<line x1="315.40" y1="316.60" x2="318.00" y2="316.60" stroke="#231f20" stroke-width="0.8"/>
<text x="313.60" y="319.33" font-size="7.7" text-anchor="end" fill="#2b2b2b" stroke="#2b2b2b" stroke-width="0.15">20</text>
<line x1="316.40" y1="311.90" x2="318.00" y2="311.90" stroke="#231f20" stroke-width="0.8"/>
<line x1="316.40" y1="307.20" x2="318.00" y2="307.20" stroke="#231f20" stroke-width="0.8"/>
<line x1="316.40" y1="302.50" x2="318.00" y2="302.50" stroke="#231f20" stroke-width="0.8"/>
<line x1="316.40" y1="297.80" x2="318.00" y2="297.80" stroke="#231f20" stroke-width="0.8"/>
<line x1="315.40" y1="293.10" x2="318.00" y2="293.10" stroke="#231f20" stroke-width="0.8"/>
<text x="313.60" y="295.83" font-size="7.7" text-anchor="end" fill="#2b2b2b" stroke="#2b2b2b" stroke-width="0.15">40</text>
<line x1="316.40" y1="288.40" x2="318.00" y2="288.40" stroke="#231f20" stroke-width="0.8"/>
<line x1="316.40" y1="283.70" x2="318.00" y2="283.70" stroke="#231f20" stroke-width="0.8"/>
<line x1="316.40" y1="279.00" x2="318.00" y2="279.00" stroke="#231f20" stroke-width="0.8"/>
<line x1="316.40" y1="274.30" x2="318.00" y2="274.30" stroke="#231f20" stroke-width="0.8"/>
<line x1="315.40" y1="269.60" x2="318.00" y2="269.60" stroke="#231f20" stroke-width="0.8"/>
<text x="313.60" y="272.33" font-size="7.7" text-anchor="end" fill="#2b2b2b" stroke="#2b2b2b" stroke-width="0.15">60</text>
<line x1="316.40" y1="264.90" x2="318.00" y2="264.90" stroke="#231f20" stroke-width="0.8"/>
<line x1="316.40" y1="260.20" x2="318.00" y2="260.20" stroke="#231f20" stroke-width="0.8"/>
<line x1="316.40" y1="255.50" x2="318.00" y2="255.50" stroke="#231f20" stroke-width="0.8"/>
<line x1="316.40" y1="250.80" x2="318.00" y2="250.80" stroke="#231f20" stroke-width="0.8"/>
<line x1="315.40" y1="246.10" x2="318.00" y2="246.10" stroke="#231f20" stroke-width="0.8"/>
<text x="313.60" y="248.83" font-size="7.7" text-anchor="end" fill="#2b2b2b" stroke="#2b2b2b" stroke-width="0.15">80</text>
<line x1="316.40" y1="241.40" x2="318.00" y2="241.40" stroke="#231f20" stroke-width="0.8"/>
<line x1="316.40" y1="236.70" x2="318.00" y2="236.70" stroke="#231f20" stroke-width="0.8"/>
<line x1="316.40" y1="232.00" x2="318.00" y2="232.00" stroke="#231f20" stroke-width="0.8"/>
<line x1="316.40" y1="227.30" x2="318.00" y2="227.30" stroke="#231f20" stroke-width="0.8"/>
<line x1="315.40" y1="222.60" x2="318.00" y2="222.60" stroke="#231f20" stroke-width="0.8"/>
<text x="313.60" y="225.33" font-size="7.7" text-anchor="end" fill="#2b2b2b" stroke="#2b2b2b" stroke-width="0.15">100</text>
<line x1="350.90" y1="340.10" x2="350.90" y2="342.50" stroke="#231f20" stroke-width="0.9"/>
<line x1="401.20" y1="340.10" x2="401.20" y2="342.50" stroke="#231f20" stroke-width="0.9"/>
<text x="350.90" y="351.28" font-size="8.1" text-anchor="middle" fill="#2b2b2b" stroke="#2b2b2b" stroke-width="0.15">Low</text>
<text x="401.20" y="351.28" font-size="8.1" text-anchor="middle" fill="#2b2b2b" stroke="#2b2b2b" stroke-width="0.15">High</text>
<text transform="translate(290.00,283.00) rotate(-90)" x="0" y="2.91" font-size="8.2" text-anchor="middle" fill="#2b2b2b" stroke="#2b2b2b" stroke-width="0.15" textLength="78.00" lengthAdjust="spacingAndGlyphs">Percent of patients (%)</text>
<rect x="427.2" y="226.60" width="11.5" height="4.4" fill="#d49c70" stroke="#3a3a3a" stroke-width="0.8"/>
<text x="442.50" y="231.50" font-size="7.6" text-anchor="start" fill="#2b2b2b" textLength="26.00" lengthAdjust="spacingAndGlyphs" stroke="#2b2b2b" stroke-width="0.15">Aplastic</text>
<rect x="427.2" y="236.95" width="11.5" height="4.4" fill="#fcdb8c" stroke="#3a3a3a" stroke-width="0.8"/>
<text x="442.50" y="241.85" font-size="7.6" text-anchor="start" fill="#2b2b2b" textLength="69.20" lengthAdjust="spacingAndGlyphs" stroke="#2b2b2b" stroke-width="0.15">Intermittent recovery</text>
<rect x="427.2" y="247.30" width="11.5" height="4.4" fill="#c7e4c9" stroke="#3a3a3a" stroke-width="0.8"/>
<text x="442.50" y="252.20" font-size="7.6" text-anchor="start" fill="#2b2b2b" textLength="49.40" lengthAdjust="spacingAndGlyphs" stroke="#2b2b2b" stroke-width="0.15">Quick recovery</text>
<text x="7.00" y="387.70" font-size="11" text-anchor="start" fill="#000" textLength="8.30" lengthAdjust="spacingAndGlyphs" font-weight="bold">E</text>
<text x="95.80" y="389.62" font-size="8.5" text-anchor="start" fill="#231f20" textLength="100.00" lengthAdjust="spacingAndGlyphs" stroke="#231f20" stroke-width="0.15">Aggregate ANC over time</text>
<polygon points="39.40,520.40 39.40,432.30 41.20,432.30 43.85,435.50 49.60,427.10 55.00,436.30 60.20,433.20 70.80,485.00 76.40,477.50 82.10,486.70 92.50,515.60 97.80,515.60 108.70,511.40 114.20,512.50 119.60,505.50 125.10,502.00 130.50,493.30 136.00,494.60 146.90,484.40 158.50,451.80 170.70,457.00 182.90,482.30 196.00,489.30 209.10,459.80 221.90,478.20 236.20,458.90 249.40,434.50 249.40,520.40" fill="#eaf4ec" stroke="none" stroke-width="0"/>
<polygon points="39.40,520.40 39.40,470.00 41.20,470.00 43.85,486.70 49.60,481.50 54.50,472.50 65.75,503.70 70.40,505.50 76.40,513.30 82.10,516.10 87.30,519.80 92.50,520.40 108.70,520.40 114.20,520.10 131.30,511.40 136.00,510.20 147.70,498.50 158.10,489.70 171.00,503.30 183.30,505.50 196.00,502.00 208.70,503.50 221.90,490.80 236.50,477.80 249.40,447.40 249.40,520.40" fill="#e1e1cb" stroke="none" stroke-width="0"/>
<polyline points="41.20,470.00 43.85,486.70 49.60,481.50 54.50,472.50 65.75,503.70 70.40,505.50 76.40,513.30 82.10,516.10 87.30,519.80 92.50,520.40 108.70,520.40 114.20,520.10 131.30,511.40 136.00,510.20 147.70,498.50 158.10,489.70 171.00,503.30 183.30,505.50 196.00,502.00 208.70,503.50 221.90,490.80 236.50,477.80 249.40,447.40" fill="none" stroke="#c2661f" stroke-width="1.5" stroke-linejoin="round"/>
<rect x="149.60" y="473.44" width="2.40" height="46.26" fill="#fff" fill-opacity="1"/>
<rect x="227.80" y="468.62" width="2.40" height="51.08" fill="#fff" fill-opacity="1"/>
<polyline points="41.20,432.30 43.85,435.50 49.60,427.10 55.00,436.30 60.20,433.20 70.80,485.00 76.40,477.50 82.10,486.70 92.50,515.60 97.80,515.60 108.70,511.40 114.20,512.50 119.60,505.50 125.10,502.00 130.50,493.30 136.00,494.60 146.90,484.40 158.50,451.80 170.70,457.00 182.90,482.30 196.00,489.30 209.10,459.80 221.90,478.20 236.20,458.90 249.40,434.50" fill="none" stroke="#2aab45" stroke-width="1.5" stroke-linejoin="round"/>
<line x1="39.40" y1="474.20" x2="253.80" y2="474.20" stroke="#939393" stroke-width="1.0" stroke-dasharray="1.2,0.4"/>
<line x1="39.40" y1="505.00" x2="253.80" y2="505.00" stroke="#939393" stroke-width="1.0" stroke-dasharray="1.2,0.4"/>
<line x1="38.80" y1="521.10" x2="38.80" y2="395.00" stroke="#231f20" stroke-width="1.4"/>
<line x1="38.10" y1="520.40" x2="254.80" y2="520.40" stroke="#231f20" stroke-width="1.4"/>
<line x1="35.80" y1="520.40" x2="38.80" y2="520.40" stroke="#231f20" stroke-width="1.0"/>
<line x1="36.60" y1="517.27" x2="38.80" y2="517.27" stroke="#231f20" stroke-width="1.0"/>
<line x1="36.60" y1="514.15" x2="38.80" y2="514.15" stroke="#231f20" stroke-width="1.0"/>
<line x1="36.60" y1="511.02" x2="38.80" y2="511.02" stroke="#231f20" stroke-width="1.0"/>
<line x1="36.60" y1="507.90" x2="38.80" y2="507.90" stroke="#231f20" stroke-width="1.0"/>
<line x1="36.60" y1="504.77" x2="38.80" y2="504.77" stroke="#231f20" stroke-width="1.0"/>
<line x1="36.60" y1="501.65" x2="38.80" y2="501.65" stroke="#231f20" stroke-width="1.0"/>
<line x1="36.60" y1="498.52" x2="38.80" y2="498.52" stroke="#231f20" stroke-width="1.0"/>
<line x1="36.60" y1="495.40" x2="38.80" y2="495.40" stroke="#231f20" stroke-width="1.0"/>
<line x1="36.60" y1="492.27" x2="38.80" y2="492.27" stroke="#231f20" stroke-width="1.0"/>
<line x1="35.80" y1="489.15" x2="38.80" y2="489.15" stroke="#231f20" stroke-width="1.0"/>
<line x1="36.60" y1="486.02" x2="38.80" y2="486.02" stroke="#231f20" stroke-width="1.0"/>
<line x1="36.60" y1="482.90" x2="38.80" y2="482.90" stroke="#231f20" stroke-width="1.0"/>
<line x1="36.60" y1="479.77" x2="38.80" y2="479.77" stroke="#231f20" stroke-width="1.0"/>
<line x1="36.60" y1="476.65" x2="38.80" y2="476.65" stroke="#231f20" stroke-width="1.0"/>
<line x1="36.60" y1="473.52" x2="38.80" y2="473.52" stroke="#231f20" stroke-width="1.0"/>
<line x1="36.60" y1="470.40" x2="38.80" y2="470.40" stroke="#231f20" stroke-width="1.0"/>
<line x1="36.60" y1="467.27" x2="38.80" y2="467.27" stroke="#231f20" stroke-width="1.0"/>
<line x1="36.60" y1="464.15" x2="38.80" y2="464.15" stroke="#231f20" stroke-width="1.0"/>
<line x1="36.60" y1="461.02" x2="38.80" y2="461.02" stroke="#231f20" stroke-width="1.0"/>
<line x1="35.80" y1="457.90" x2="38.80" y2="457.90" stroke="#231f20" stroke-width="1.0"/>
<line x1="36.60" y1="454.77" x2="38.80" y2="454.77" stroke="#231f20" stroke-width="1.0"/>
<line x1="36.60" y1="451.65" x2="38.80" y2="451.65" stroke="#231f20" stroke-width="1.0"/>
<line x1="36.60" y1="448.52" x2="38.80" y2="448.52" stroke="#231f20" stroke-width="1.0"/>
<line x1="36.60" y1="445.40" x2="38.80" y2="445.40" stroke="#231f20" stroke-width="1.0"/>
<line x1="36.60" y1="442.27" x2="38.80" y2="442.27" stroke="#231f20" stroke-width="1.0"/>
<line x1="36.60" y1="439.15" x2="38.80" y2="439.15" stroke="#231f20" stroke-width="1.0"/>
<line x1="36.60" y1="436.02" x2="38.80" y2="436.02" stroke="#231f20" stroke-width="1.0"/>
<line x1="36.60" y1="432.90" x2="38.80" y2="432.90" stroke="#231f20" stroke-width="1.0"/>
<line x1="36.60" y1="429.77" x2="38.80" y2="429.77" stroke="#231f20" stroke-width="1.0"/>
<line x1="35.80" y1="426.65" x2="38.80" y2="426.65" stroke="#231f20" stroke-width="1.0"/>
<line x1="36.60" y1="423.52" x2="38.80" y2="423.52" stroke="#231f20" stroke-width="1.0"/>
<line x1="36.60" y1="420.40" x2="38.80" y2="420.40" stroke="#231f20" stroke-width="1.0"/>
<line x1="36.60" y1="417.27" x2="38.80" y2="417.27" stroke="#231f20" stroke-width="1.0"/>
<line x1="36.60" y1="414.15" x2="38.80" y2="414.15" stroke="#231f20" stroke-width="1.0"/>
<line x1="36.60" y1="411.02" x2="38.80" y2="411.02" stroke="#231f20" stroke-width="1.0"/>
<line x1="36.60" y1="407.90" x2="38.80" y2="407.90" stroke="#231f20" stroke-width="1.0"/>
<line x1="36.60" y1="404.77" x2="38.80" y2="404.77" stroke="#231f20" stroke-width="1.0"/>
<line x1="36.60" y1="401.65" x2="38.80" y2="401.65" stroke="#231f20" stroke-width="1.0"/>
<line x1="36.60" y1="398.52" x2="38.80" y2="398.52" stroke="#231f20" stroke-width="1.0"/>
<line x1="35.80" y1="395.40" x2="38.80" y2="395.40" stroke="#231f20" stroke-width="1.0"/>
<text x="33.50" y="523.10" font-size="7.6" text-anchor="end" fill="#2b2b2b" stroke="#2b2b2b" stroke-width="0.15">0</text>
<text x="33.50" y="491.85" font-size="7.6" text-anchor="end" fill="#2b2b2b" stroke="#2b2b2b" stroke-width="0.15">1000</text>
<text x="33.50" y="460.60" font-size="7.6" text-anchor="end" fill="#2b2b2b" stroke="#2b2b2b" stroke-width="0.15">2000</text>
<text x="33.50" y="429.35" font-size="7.6" text-anchor="end" fill="#2b2b2b" stroke="#2b2b2b" stroke-width="0.15">3000</text>
<text x="33.50" y="398.10" font-size="7.6" text-anchor="end" fill="#2b2b2b" stroke="#2b2b2b" stroke-width="0.15">4000</text>
<line x1="43.95" y1="520.40" x2="43.95" y2="523.60" stroke="#231f20" stroke-width="1.2"/>
<text x="43.95" y="529.86" font-size="5.8" text-anchor="middle" fill="#2b2b2b" stroke="#2b2b2b" stroke-width="0.15">-5</text>
<line x1="49.37" y1="520.40" x2="49.37" y2="523.60" stroke="#231f20" stroke-width="1.2"/>
<text x="49.37" y="529.86" font-size="5.8" text-anchor="middle" fill="#2b2b2b" stroke="#2b2b2b" stroke-width="0.15">-4</text>
<line x1="54.79" y1="520.40" x2="54.79" y2="523.60" stroke="#231f20" stroke-width="1.2"/>
<text x="54.79" y="529.86" font-size="5.8" text-anchor="middle" fill="#2b2b2b" stroke="#2b2b2b" stroke-width="0.15">-3</text>
<line x1="60.21" y1="520.40" x2="60.21" y2="523.60" stroke="#231f20" stroke-width="1.2"/>
<text x="60.21" y="529.86" font-size="5.8" text-anchor="middle" fill="#2b2b2b" stroke="#2b2b2b" stroke-width="0.15">-2</text>
<line x1="65.63" y1="520.40" x2="65.63" y2="523.60" stroke="#231f20" stroke-width="1.2"/>
<text x="65.63" y="529.86" font-size="5.8" text-anchor="middle" fill="#2b2b2b" stroke="#2b2b2b" stroke-width="0.15">-1</text>
<line x1="71.05" y1="520.40" x2="71.05" y2="523.60" stroke="#231f20" stroke-width="1.2"/>
<text x="71.05" y="529.86" font-size="5.8" text-anchor="middle" fill="#2b2b2b" stroke="#2b2b2b" stroke-width="0.15">0</text>
<line x1="76.47" y1="520.40" x2="76.47" y2="523.60" stroke="#231f20" stroke-width="1.2"/>
<text x="76.47" y="529.86" font-size="5.8" text-anchor="middle" fill="#2b2b2b" stroke="#2b2b2b" stroke-width="0.15">1</text>
<line x1="81.89" y1="520.40" x2="81.89" y2="523.60" stroke="#231f20" stroke-width="1.2"/>
<text x="81.89" y="529.86" font-size="5.8" text-anchor="middle" fill="#2b2b2b" stroke="#2b2b2b" stroke-width="0.15">2</text>
<line x1="87.31" y1="520.40" x2="87.31" y2="523.60" stroke="#231f20" stroke-width="1.2"/>
<text x="87.31" y="529.86" font-size="5.8" text-anchor="middle" fill="#2b2b2b" stroke="#2b2b2b" stroke-width="0.15">3</text>
<line x1="92.73" y1="520.40" x2="92.73" y2="523.60" stroke="#231f20" stroke-width="1.2"/>
<text x="92.73" y="529.86" font-size="5.8" text-anchor="middle" fill="#2b2b2b" stroke="#2b2b2b" stroke-width="0.15">4</text>
<line x1="98.15" y1="520.40" x2="98.15" y2="523.60" stroke="#231f20" stroke-width="1.2"/>
<text x="98.15" y="529.86" font-size="5.8" text-anchor="middle" fill="#2b2b2b" stroke="#2b2b2b" stroke-width="0.15">5</text>
<line x1="103.57" y1="520.40" x2="103.57" y2="523.60" stroke="#231f20" stroke-width="1.2"/>
<text x="103.57" y="529.86" font-size="5.8" text-anchor="middle" fill="#2b2b2b" stroke="#2b2b2b" stroke-width="0.15">6</text>
<line x1="108.99" y1="520.40" x2="108.99" y2="523.60" stroke="#231f20" stroke-width="1.2"/>
<text x="108.99" y="529.86" font-size="5.8" text-anchor="middle" fill="#2b2b2b" stroke="#2b2b2b" stroke-width="0.15">7</text>
<line x1="114.41" y1="520.40" x2="114.41" y2="523.60" stroke="#231f20" stroke-width="1.2"/>
<text x="114.41" y="529.86" font-size="5.8" text-anchor="middle" fill="#2b2b2b" stroke="#2b2b2b" stroke-width="0.15">8</text>
<line x1="119.83" y1="520.40" x2="119.83" y2="523.60" stroke="#231f20" stroke-width="1.2"/>
<text x="119.83" y="529.86" font-size="5.8" text-anchor="middle" fill="#2b2b2b" stroke="#2b2b2b" stroke-width="0.15">9</text>
<line x1="125.25" y1="520.40" x2="125.25" y2="523.60" stroke="#231f20" stroke-width="1.2"/>
<text x="125.25" y="529.86" font-size="5.8" text-anchor="middle" fill="#2b2b2b" textLength="4.70" lengthAdjust="spacingAndGlyphs" stroke="#2b2b2b" stroke-width="0.15">10</text>
<line x1="130.67" y1="520.40" x2="130.67" y2="523.60" stroke="#231f20" stroke-width="1.2"/>
<text x="130.67" y="529.86" font-size="5.8" text-anchor="middle" fill="#2b2b2b" textLength="4.70" lengthAdjust="spacingAndGlyphs" stroke="#2b2b2b" stroke-width="0.15">11</text>
<line x1="136.09" y1="520.40" x2="136.09" y2="523.60" stroke="#231f20" stroke-width="1.2"/>
<text x="136.09" y="529.86" font-size="5.8" text-anchor="middle" fill="#2b2b2b" textLength="4.70" lengthAdjust="spacingAndGlyphs" stroke="#2b2b2b" stroke-width="0.15">12</text>
<line x1="141.51" y1="520.40" x2="141.51" y2="523.60" stroke="#231f20" stroke-width="1.2"/>
<text x="141.51" y="529.86" font-size="5.8" text-anchor="middle" fill="#2b2b2b" textLength="4.70" lengthAdjust="spacingAndGlyphs" stroke="#2b2b2b" stroke-width="0.15">13</text>
<line x1="146.93" y1="520.40" x2="146.93" y2="523.60" stroke="#231f20" stroke-width="1.2"/>
<text x="146.93" y="529.86" font-size="5.8" text-anchor="middle" fill="#2b2b2b" textLength="4.70" lengthAdjust="spacingAndGlyphs" stroke="#2b2b2b" stroke-width="0.15">14</text>
<line x1="158.00" y1="520.40" x2="158.00" y2="523.60" stroke="#231f20" stroke-width="1.2"/>
<text x="158.00" y="529.86" font-size="5.8" text-anchor="middle" fill="#2b2b2b" textLength="6.40" lengthAdjust="spacingAndGlyphs" stroke="#2b2b2b" stroke-width="0.15">W3</text>
<line x1="170.60" y1="520.40" x2="170.60" y2="523.60" stroke="#231f20" stroke-width="1.2"/>
<text x="170.60" y="529.86" font-size="5.8" text-anchor="middle" fill="#2b2b2b" textLength="6.40" lengthAdjust="spacingAndGlyphs" stroke="#2b2b2b" stroke-width="0.15">W4</text>
<line x1="183.20" y1="520.40" x2="183.20" y2="523.60" stroke="#231f20" stroke-width="1.2"/>
<text x="183.20" y="529.86" font-size="5.8" text-anchor="middle" fill="#2b2b2b" textLength="6.40" lengthAdjust="spacingAndGlyphs" stroke="#2b2b2b" stroke-width="0.15">W5</text>
<line x1="195.80" y1="520.40" x2="195.80" y2="523.60" stroke="#231f20" stroke-width="1.2"/>
<text x="195.80" y="529.86" font-size="5.8" text-anchor="middle" fill="#2b2b2b" textLength="6.40" lengthAdjust="spacingAndGlyphs" stroke="#2b2b2b" stroke-width="0.15">W6</text>
<line x1="208.40" y1="520.40" x2="208.40" y2="523.60" stroke="#231f20" stroke-width="1.2"/>
<text x="208.40" y="529.86" font-size="5.8" text-anchor="middle" fill="#2b2b2b" textLength="6.40" lengthAdjust="spacingAndGlyphs" stroke="#2b2b2b" stroke-width="0.15">W7</text>
<line x1="221.00" y1="520.40" x2="221.00" y2="523.60" stroke="#231f20" stroke-width="1.2"/>
<text x="221.00" y="529.86" font-size="5.8" text-anchor="middle" fill="#2b2b2b" textLength="6.40" lengthAdjust="spacingAndGlyphs" stroke="#2b2b2b" stroke-width="0.15">W8</text>
<line x1="236.60" y1="520.40" x2="236.60" y2="523.60" stroke="#231f20" stroke-width="1.2"/>
<text x="236.60" y="529.86" font-size="5.8" text-anchor="middle" fill="#2b2b2b" textLength="6.40" lengthAdjust="spacingAndGlyphs" stroke="#2b2b2b" stroke-width="0.15">M3</text>
<line x1="249.40" y1="520.40" x2="249.40" y2="523.60" stroke="#231f20" stroke-width="1.2"/>
<text x="249.40" y="529.86" font-size="5.8" text-anchor="middle" fill="#2b2b2b" textLength="6.40" lengthAdjust="spacingAndGlyphs" stroke="#2b2b2b" stroke-width="0.15">M4</text>
<line x1="149.7" y1="518.0" x2="149.7" y2="523.0" stroke="#231f20" stroke-width="0.9"/>
<line x1="151.3" y1="518.0" x2="151.3" y2="523.0" stroke="#231f20" stroke-width="0.9"/>
<line x1="228.4" y1="518.0" x2="228.4" y2="523.0" stroke="#231f20" stroke-width="0.9"/>
<line x1="230.0" y1="518.0" x2="230.0" y2="523.0" stroke="#231f20" stroke-width="0.9"/>
<text transform="translate(10.60,450.00) rotate(-90)" x="0" y="3.05" font-size="8.6" text-anchor="middle" fill="#2b2b2b" stroke="#2b2b2b" stroke-width="0.15" textLength="80.00" lengthAdjust="spacingAndGlyphs">Abs. neutrophil count/µl</text>
<line x1="44.30" y1="399.40" x2="51.80" y2="399.40" stroke="#3cb44e" stroke-width="1.5"/>
<line x1="44.30" y1="409.20" x2="51.80" y2="409.20" stroke="#c98652" stroke-width="1.5"/>
<text x="55.30" y="402.10" font-size="7.6" text-anchor="start" fill="#45b556" textLength="79.80" lengthAdjust="spacingAndGlyphs" stroke="#45b556" stroke-width="0.15">CAR-HEMATOTOX Low</text>
<text x="55.30" y="411.90" font-size="7.6" text-anchor="start" fill="#c77f48" textLength="81.50" lengthAdjust="spacingAndGlyphs" stroke="#c77f48" stroke-width="0.15">CAR-HEMATOTOX High</text>
<text x="189.50" y="404.19" font-size="7.3" text-anchor="start" fill="#2b2b2b" textLength="60.00" lengthAdjust="spacingAndGlyphs" stroke="#2b2b2b" stroke-width="0.15"><tspan font-style="italic">P</tspan> (AUC) = 6 x 10<tspan font-size="5" dy="-2.6">–4</tspan></text>
<text x="47.50" y="536.67" font-size="6.4" text-anchor="middle" fill="#2b2b2b" textLength="23.50" lengthAdjust="spacingAndGlyphs" stroke="#2b2b2b" stroke-width="0.15">Baseline</text>
<text x="90.50" y="539.57" font-size="6.4" text-anchor="middle" fill="#2b2b2b" textLength="13.50" lengthAdjust="spacingAndGlyphs" stroke="#2b2b2b" stroke-width="0.15">Days</text>
<text x="192.70" y="539.07" font-size="6.4" text-anchor="middle" fill="#2b2b2b" textLength="18.00" lengthAdjust="spacingAndGlyphs" stroke="#2b2b2b" stroke-width="0.15">Weeks</text>
<text x="242.60" y="539.07" font-size="6.4" text-anchor="middle" fill="#2b2b2b" textLength="20.00" lengthAdjust="spacingAndGlyphs" stroke="#2b2b2b" stroke-width="0.15">Months</text>
<text x="267.00" y="387.70" font-size="11" text-anchor="start" fill="#000" textLength="8.30" lengthAdjust="spacingAndGlyphs" font-weight="bold">F</text>
<text x="334.80" y="387.62" font-size="8.5" text-anchor="start" fill="#231f20" textLength="133.50" lengthAdjust="spacingAndGlyphs" stroke="#231f20" stroke-width="0.15">Aggregate platelet count over time</text>
<polygon points="294.50,521.00 294.50,442.30 296.20,442.30 298.60,442.30 304.80,447.50 310.30,447.00 315.70,447.50 321.20,453.30 326.60,457.50 332.10,464.20 337.60,468.80 343.00,470.90 348.50,476.20 353.90,477.40 359.70,477.00 365.10,478.20 370.60,476.30 376.00,479.00 381.50,477.00 387.00,475.40 392.40,475.40 397.90,481.30 403.30,477.90 413.50,481.00 426.90,490.20 439.70,490.20 452.90,486.60 465.70,481.70 478.50,472.00 493.10,462.80 506.80,468.90 506.50,521.00" fill="#eaf4ec" stroke="none" stroke-width="0"/>
<polygon points="294.50,521.00 294.50,481.30 296.20,481.30 299.40,479.00 304.80,482.90 310.30,488.30 315.70,490.70 321.20,484.40 326.60,489.10 332.10,495.30 337.60,501.60 343.00,503.90 348.50,500.80 353.90,503.50 359.70,501.60 365.10,503.10 370.60,500.50 376.00,501.60 381.50,503.90 387.00,503.90 392.40,502.00 397.90,502.70 403.30,507.00 413.50,505.50 426.90,509.00 439.70,509.00 452.90,511.20 465.70,512.20 478.50,512.20 493.10,494.80 506.80,494.30 506.50,521.00" fill="#e1e1cb" stroke="none" stroke-width="0"/>
<rect x="405.60" y="478.81" width="1.40" height="41.49" fill="#fff" fill-opacity="0.75"/>
<rect x="485.30" y="467.21" width="1.60" height="53.09" fill="#fff" fill-opacity="0.75"/>
<polyline points="296.20,481.30 299.40,479.00 304.80,482.90 310.30,488.30 315.70,490.70 321.20,484.40 326.60,489.10 332.10,495.30 337.60,501.60 343.00,503.90 348.50,500.80 353.90,503.50 359.70,501.60 365.10,503.10 370.60,500.50 376.00,501.60 381.50,503.90 387.00,503.90 392.40,502.00 397.90,502.70 403.30,507.00 413.50,505.50 426.90,509.00 439.70,509.00 452.90,511.20 465.70,512.20 478.50,512.20 493.10,494.80 506.80,494.30" fill="none" stroke="#c2661f" stroke-width="1.5" stroke-linejoin="round"/>
<polyline points="296.20,442.30 298.60,442.30 304.80,447.50 310.30,447.00 315.70,447.50 321.20,453.30 326.60,457.50 332.10,464.20 337.60,468.80 343.00,470.90 348.50,476.20 353.90,477.40 359.70,477.00 365.10,478.20 370.60,476.30 376.00,479.00 381.50,477.00 387.00,475.40 392.40,475.40 397.90,481.30 403.30,477.90 413.50,481.00 426.90,490.20 439.70,490.20 452.90,486.60 465.70,481.70 478.50,472.00 493.10,462.80 506.80,468.90" fill="none" stroke="#2aab45" stroke-width="1.5" stroke-linejoin="round"/>
<line x1="294.50" y1="458.30" x2="512.80" y2="458.30" stroke="#939393" stroke-width="1.0" stroke-dasharray="1.2,0.4"/>
<line x1="294.50" y1="500.40" x2="512.80" y2="500.40" stroke="#939393" stroke-width="1.0" stroke-dasharray="1.2,0.4"/>
<line x1="293.90" y1="521.70" x2="293.90" y2="394.60" stroke="#231f20" stroke-width="1.4"/>
<line x1="293.20" y1="521.00" x2="512.80" y2="521.00" stroke="#231f20" stroke-width="1.4"/>
<line x1="290.90" y1="521.00" x2="293.90" y2="521.00" stroke="#231f20" stroke-width="1.0"/>
<line x1="291.70" y1="516.80" x2="293.90" y2="516.80" stroke="#231f20" stroke-width="1.0"/>
<line x1="291.70" y1="512.60" x2="293.90" y2="512.60" stroke="#231f20" stroke-width="1.0"/>
<line x1="291.70" y1="508.40" x2="293.90" y2="508.40" stroke="#231f20" stroke-width="1.0"/>
<line x1="291.70" y1="504.20" x2="293.90" y2="504.20" stroke="#231f20" stroke-width="1.0"/>
<line x1="291.70" y1="500.00" x2="293.90" y2="500.00" stroke="#231f20" stroke-width="1.0"/>
<line x1="291.70" y1="495.80" x2="293.90" y2="495.80" stroke="#231f20" stroke-width="1.0"/>
<line x1="291.70" y1="491.60" x2="293.90" y2="491.60" stroke="#231f20" stroke-width="1.0"/>
<line x1="291.70" y1="487.40" x2="293.90" y2="487.40" stroke="#231f20" stroke-width="1.0"/>
<line x1="291.70" y1="483.20" x2="293.90" y2="483.20" stroke="#231f20" stroke-width="1.0"/>
<line x1="290.90" y1="479.00" x2="293.90" y2="479.00" stroke="#231f20" stroke-width="1.0"/>
<line x1="291.70" y1="474.80" x2="293.90" y2="474.80" stroke="#231f20" stroke-width="1.0"/>
<line x1="291.70" y1="470.60" x2="293.90" y2="470.60" stroke="#231f20" stroke-width="1.0"/>
<line x1="291.70" y1="466.40" x2="293.90" y2="466.40" stroke="#231f20" stroke-width="1.0"/>
<line x1="291.70" y1="462.20" x2="293.90" y2="462.20" stroke="#231f20" stroke-width="1.0"/>
<line x1="291.70" y1="458.00" x2="293.90" y2="458.00" stroke="#231f20" stroke-width="1.0"/>
<line x1="291.70" y1="453.80" x2="293.90" y2="453.80" stroke="#231f20" stroke-width="1.0"/>
<line x1="291.70" y1="449.60" x2="293.90" y2="449.60" stroke="#231f20" stroke-width="1.0"/>
<line x1="291.70" y1="445.40" x2="293.90" y2="445.40" stroke="#231f20" stroke-width="1.0"/>
<line x1="291.70" y1="441.20" x2="293.90" y2="441.20" stroke="#231f20" stroke-width="1.0"/>
<line x1="290.90" y1="437.00" x2="293.90" y2="437.00" stroke="#231f20" stroke-width="1.0"/>
<line x1="291.70" y1="432.80" x2="293.90" y2="432.80" stroke="#231f20" stroke-width="1.0"/>
<line x1="291.70" y1="428.60" x2="293.90" y2="428.60" stroke="#231f20" stroke-width="1.0"/>
<line x1="291.70" y1="424.40" x2="293.90" y2="424.40" stroke="#231f20" stroke-width="1.0"/>
<line x1="291.70" y1="420.20" x2="293.90" y2="420.20" stroke="#231f20" stroke-width="1.0"/>
<line x1="291.70" y1="416.00" x2="293.90" y2="416.00" stroke="#231f20" stroke-width="1.0"/>
<line x1="291.70" y1="411.80" x2="293.90" y2="411.80" stroke="#231f20" stroke-width="1.0"/>
<line x1="291.70" y1="407.60" x2="293.90" y2="407.60" stroke="#231f20" stroke-width="1.0"/>
<line x1="291.70" y1="403.40" x2="293.90" y2="403.40" stroke="#231f20" stroke-width="1.0"/>
<line x1="291.70" y1="399.20" x2="293.90" y2="399.20" stroke="#231f20" stroke-width="1.0"/>
<line x1="290.90" y1="395.00" x2="293.90" y2="395.00" stroke="#231f20" stroke-width="1.0"/>
<text x="288.60" y="523.70" font-size="7.6" text-anchor="end" fill="#2b2b2b" stroke="#2b2b2b" stroke-width="0.15">0</text>
<text x="288.60" y="481.70" font-size="7.6" text-anchor="end" fill="#2b2b2b" stroke="#2b2b2b" stroke-width="0.15">100</text>
<text x="288.60" y="439.70" font-size="7.6" text-anchor="end" fill="#2b2b2b" stroke="#2b2b2b" stroke-width="0.15">200</text>
<text x="288.60" y="397.70" font-size="7.6" text-anchor="end" fill="#2b2b2b" stroke="#2b2b2b" stroke-width="0.15">300</text>
<line x1="299.40" y1="521.00" x2="299.40" y2="524.20" stroke="#231f20" stroke-width="1.2"/>
<text x="299.40" y="529.86" font-size="5.8" text-anchor="middle" fill="#2b2b2b" stroke="#2b2b2b" stroke-width="0.15">-5</text>
<line x1="304.86" y1="521.00" x2="304.86" y2="524.20" stroke="#231f20" stroke-width="1.2"/>
<text x="304.86" y="529.86" font-size="5.8" text-anchor="middle" fill="#2b2b2b" stroke="#2b2b2b" stroke-width="0.15">-4</text>
<line x1="310.32" y1="521.00" x2="310.32" y2="524.20" stroke="#231f20" stroke-width="1.2"/>
<text x="310.32" y="529.86" font-size="5.8" text-anchor="middle" fill="#2b2b2b" stroke="#2b2b2b" stroke-width="0.15">-3</text>
<line x1="315.78" y1="521.00" x2="315.78" y2="524.20" stroke="#231f20" stroke-width="1.2"/>
<text x="315.78" y="529.86" font-size="5.8" text-anchor="middle" fill="#2b2b2b" stroke="#2b2b2b" stroke-width="0.15">-2</text>
<line x1="321.24" y1="521.00" x2="321.24" y2="524.20" stroke="#231f20" stroke-width="1.2"/>
<text x="321.24" y="529.86" font-size="5.8" text-anchor="middle" fill="#2b2b2b" stroke="#2b2b2b" stroke-width="0.15">-1</text>
<line x1="326.70" y1="521.00" x2="326.70" y2="524.20" stroke="#231f20" stroke-width="1.2"/>
<text x="326.70" y="529.86" font-size="5.8" text-anchor="middle" fill="#2b2b2b" stroke="#2b2b2b" stroke-width="0.15">0</text>
<line x1="332.16" y1="521.00" x2="332.16" y2="524.20" stroke="#231f20" stroke-width="1.2"/>
<text x="332.16" y="529.86" font-size="5.8" text-anchor="middle" fill="#2b2b2b" stroke="#2b2b2b" stroke-width="0.15">1</text>
<line x1="337.62" y1="521.00" x2="337.62" y2="524.20" stroke="#231f20" stroke-width="1.2"/>
<text x="337.62" y="529.86" font-size="5.8" text-anchor="middle" fill="#2b2b2b" stroke="#2b2b2b" stroke-width="0.15">2</text>
<line x1="343.08" y1="521.00" x2="343.08" y2="524.20" stroke="#231f20" stroke-width="1.2"/>
<text x="343.08" y="529.86" font-size="5.8" text-anchor="middle" fill="#2b2b2b" stroke="#2b2b2b" stroke-width="0.15">3</text>
<line x1="348.54" y1="521.00" x2="348.54" y2="524.20" stroke="#231f20" stroke-width="1.2"/>
<text x="348.54" y="529.86" font-size="5.8" text-anchor="middle" fill="#2b2b2b" stroke="#2b2b2b" stroke-width="0.15">4</text>
<line x1="354.00" y1="521.00" x2="354.00" y2="524.20" stroke="#231f20" stroke-width="1.2"/>
<text x="354.00" y="529.86" font-size="5.8" text-anchor="middle" fill="#2b2b2b" stroke="#2b2b2b" stroke-width="0.15">5</text>
<line x1="359.46" y1="521.00" x2="359.46" y2="524.20" stroke="#231f20" stroke-width="1.2"/>
<text x="359.46" y="529.86" font-size="5.8" text-anchor="middle" fill="#2b2b2b" stroke="#2b2b2b" stroke-width="0.15">6</text>
<line x1="364.92" y1="521.00" x2="364.92" y2="524.20" stroke="#231f20" stroke-width="1.2"/>
<text x="364.92" y="529.86" font-size="5.8" text-anchor="middle" fill="#2b2b2b" stroke="#2b2b2b" stroke-width="0.15">7</text>
<line x1="370.38" y1="521.00" x2="370.38" y2="524.20" stroke="#231f20" stroke-width="1.2"/>
<text x="370.38" y="529.86" font-size="5.8" text-anchor="middle" fill="#2b2b2b" stroke="#2b2b2b" stroke-width="0.15">8</text>
<line x1="375.84" y1="521.00" x2="375.84" y2="524.20" stroke="#231f20" stroke-width="1.2"/>
<text x="375.84" y="529.86" font-size="5.8" text-anchor="middle" fill="#2b2b2b" stroke="#2b2b2b" stroke-width="0.15">9</text>
<line x1="381.30" y1="521.00" x2="381.30" y2="524.20" stroke="#231f20" stroke-width="1.2"/>
<text x="381.30" y="529.86" font-size="5.8" text-anchor="middle" fill="#2b2b2b" textLength="4.70" lengthAdjust="spacingAndGlyphs" stroke="#2b2b2b" stroke-width="0.15">10</text>
<line x1="386.76" y1="521.00" x2="386.76" y2="524.20" stroke="#231f20" stroke-width="1.2"/>
<text x="386.76" y="529.86" font-size="5.8" text-anchor="middle" fill="#2b2b2b" textLength="4.70" lengthAdjust="spacingAndGlyphs" stroke="#2b2b2b" stroke-width="0.15">11</text>
<line x1="392.22" y1="521.00" x2="392.22" y2="524.20" stroke="#231f20" stroke-width="1.2"/>
<text x="392.22" y="529.86" font-size="5.8" text-anchor="middle" fill="#2b2b2b" textLength="4.70" lengthAdjust="spacingAndGlyphs" stroke="#2b2b2b" stroke-width="0.15">12</text>
<line x1="397.68" y1="521.00" x2="397.68" y2="524.20" stroke="#231f20" stroke-width="1.2"/>
<text x="397.68" y="529.86" font-size="5.8" text-anchor="middle" fill="#2b2b2b" textLength="4.70" lengthAdjust="spacingAndGlyphs" stroke="#2b2b2b" stroke-width="0.15">13</text>
<line x1="403.14" y1="521.00" x2="403.14" y2="524.20" stroke="#231f20" stroke-width="1.2"/>
<text x="403.14" y="529.86" font-size="5.8" text-anchor="middle" fill="#2b2b2b" textLength="4.70" lengthAdjust="spacingAndGlyphs" stroke="#2b2b2b" stroke-width="0.15">14</text>
<line x1="414.00" y1="521.00" x2="414.00" y2="524.20" stroke="#231f20" stroke-width="1.2"/>
<text x="414.00" y="529.86" font-size="5.8" text-anchor="middle" fill="#2b2b2b" textLength="6.40" lengthAdjust="spacingAndGlyphs" stroke="#2b2b2b" stroke-width="0.15">W3</text>
<line x1="426.90" y1="521.00" x2="426.90" y2="524.20" stroke="#231f20" stroke-width="1.2"/>
<text x="426.90" y="529.86" font-size="5.8" text-anchor="middle" fill="#2b2b2b" textLength="6.40" lengthAdjust="spacingAndGlyphs" stroke="#2b2b2b" stroke-width="0.15">W4</text>
<line x1="439.80" y1="521.00" x2="439.80" y2="524.20" stroke="#231f20" stroke-width="1.2"/>
<text x="439.80" y="529.86" font-size="5.8" text-anchor="middle" fill="#2b2b2b" textLength="6.40" lengthAdjust="spacingAndGlyphs" stroke="#2b2b2b" stroke-width="0.15">W5</text>
<line x1="452.70" y1="521.00" x2="452.70" y2="524.20" stroke="#231f20" stroke-width="1.2"/>
<text x="452.70" y="529.86" font-size="5.8" text-anchor="middle" fill="#2b2b2b" textLength="6.40" lengthAdjust="spacingAndGlyphs" stroke="#2b2b2b" stroke-width="0.15">W6</text>
<line x1="465.60" y1="521.00" x2="465.60" y2="524.20" stroke="#231f20" stroke-width="1.2"/>
<text x="465.60" y="529.86" font-size="5.8" text-anchor="middle" fill="#2b2b2b" textLength="6.40" lengthAdjust="spacingAndGlyphs" stroke="#2b2b2b" stroke-width="0.15">W7</text>
<line x1="478.50" y1="521.00" x2="478.50" y2="524.20" stroke="#231f20" stroke-width="1.2"/>
<text x="478.50" y="529.86" font-size="5.8" text-anchor="middle" fill="#2b2b2b" textLength="6.40" lengthAdjust="spacingAndGlyphs" stroke="#2b2b2b" stroke-width="0.15">W8</text>
<line x1="493.50" y1="521.00" x2="493.50" y2="524.20" stroke="#231f20" stroke-width="1.2"/>
<text x="493.50" y="529.86" font-size="5.8" text-anchor="middle" fill="#2b2b2b" textLength="6.40" lengthAdjust="spacingAndGlyphs" stroke="#2b2b2b" stroke-width="0.15">M3</text>
<line x1="506.90" y1="521.00" x2="506.90" y2="524.20" stroke="#231f20" stroke-width="1.2"/>
<text x="506.90" y="529.86" font-size="5.8" text-anchor="middle" fill="#2b2b2b" textLength="6.40" lengthAdjust="spacingAndGlyphs" stroke="#2b2b2b" stroke-width="0.15">M4</text>
<line x1="406.0" y1="518.2" x2="406.0" y2="523.4" stroke="#231f20" stroke-width="0.9"/>
<path d="M407.5,518.2 Q409.6,520.8 407.5,523.4" fill="none" stroke="#231f20" stroke-width="0.9"/>
<ellipse cx="486.2" cy="521.0" rx="1.6" ry="2.6" fill="#231f20"/>
<text transform="translate(268.00,452.80) rotate(-90)" x="0" y="3.05" font-size="8.6" text-anchor="middle" fill="#2b2b2b" stroke="#2b2b2b" stroke-width="0.15" textLength="62.00" lengthAdjust="spacingAndGlyphs">Platelet count (G/l)</text>
<line x1="300.50" y1="400.80" x2="308.00" y2="400.80" stroke="#3cb44e" stroke-width="1.5"/>
<line x1="300.50" y1="411.00" x2="308.00" y2="411.00" stroke="#c98652" stroke-width="1.5"/>
<text x="311.50" y="403.50" font-size="7.6" text-anchor="start" fill="#45b556" textLength="79.80" lengthAdjust="spacingAndGlyphs" stroke="#45b556" stroke-width="0.15">CAR-HEMATOTOX Low</text>
<text x="311.50" y="413.70" font-size="7.6" text-anchor="start" fill="#c77f48" textLength="81.50" lengthAdjust="spacingAndGlyphs" stroke="#c77f48" stroke-width="0.15">CAR-HEMATOTOX High</text>
<text x="451.30" y="404.19" font-size="7.3" text-anchor="start" fill="#2b2b2b" textLength="59.50" lengthAdjust="spacingAndGlyphs" stroke="#2b2b2b" stroke-width="0.15"><tspan font-style="italic">P</tspan> (AUC) &lt; 1 x 10<tspan font-size="5" dy="-2.6">–4</tspan></text>
<text x="303.20" y="537.47" font-size="6.4" text-anchor="middle" fill="#2b2b2b" textLength="23.50" lengthAdjust="spacingAndGlyphs" stroke="#2b2b2b" stroke-width="0.15">Baseline</text>
<text x="346.80" y="540.07" font-size="6.4" text-anchor="middle" fill="#2b2b2b" textLength="13.50" lengthAdjust="spacingAndGlyphs" stroke="#2b2b2b" stroke-width="0.15">Days</text>
<text x="452.00" y="539.67" font-size="6.4" text-anchor="middle" fill="#2b2b2b" textLength="18.00" lengthAdjust="spacingAndGlyphs" stroke="#2b2b2b" stroke-width="0.15">Weeks</text>
<text x="501.20" y="539.67" font-size="6.4" text-anchor="middle" fill="#2b2b2b" textLength="20.00" lengthAdjust="spacingAndGlyphs" stroke="#2b2b2b" stroke-width="0.15">Months</text>
<rect x="0.65" y="0.65" width="518.7" height="543.7" fill="none" stroke="#111" stroke-width="1.3"/>
</svg>
</body></html>
